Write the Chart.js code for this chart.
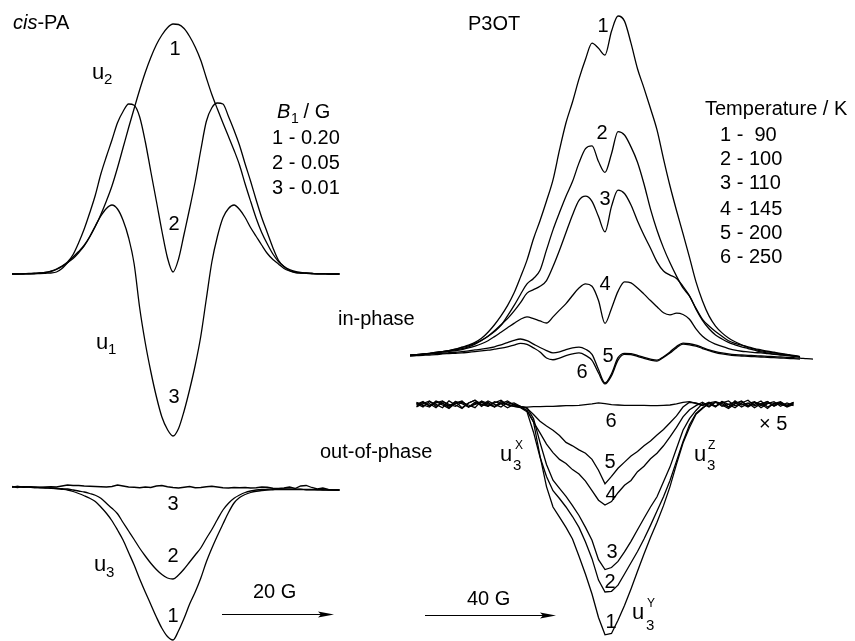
<!DOCTYPE html>
<html>
<head>
<meta charset="utf-8">
<script src="https://cdn.jsdelivr.net/npm/chart.js@4.4.1/dist/chart.umd.min.js"></script>
<style>
  body { margin: 0; background: #fff; }
  #fig { position: relative; width: 855px; height: 641px; overflow: hidden;
         font-family: "Liberation Sans", Arial, sans-serif; color: #000; }
  #fig canvas { position: absolute; }
  .lbl { position: absolute; white-space: pre; }
</style>
</head>
<body>
<div id="fig">
  <canvas id="leftIn"></canvas>
  <canvas id="leftOut"></canvas>
  <canvas id="rightIn"></canvas>
  <canvas id="rightOut"></canvas>
  <svg width="855" height="641" style="position:absolute;left:0;top:0">
    <line x1="222" y1="614.5" x2="324" y2="614.5" stroke="#000" stroke-width="1.2"/>
    <polygon points="334,614.5 318,611.5 321,614.5 318,617.5" fill="#000"/>
    <line x1="425" y1="615.5" x2="546" y2="615.5" stroke="#000" stroke-width="1.2"/>
    <polygon points="556,615.5 540,612.5 543,615.5 540,618.5" fill="#000"/>
  </svg>
</div>
<script>
// ---- cis-PA (field offset in G, amplitude normalised to curve 1) ----
const fieldL = [-29,-28,-27,-26,-25,-24,-23,-22,-21,-20,-19,-18,-17,-16,-15,-14,-13,-12,-11,-10,
  -9,-8,-7,-6,-5,-4,-3,-2,-1,0,1,2,3,4,5,6,7,8,9,10,11,12,13,14,15,16,17,18,19,20,
  21,22,23,24,25,26,27,28,29,30];

// in-phase, B1 = 0.20 / 0.05 / 0.01 G
const inL1 = [0.000,0.000,0.001,0.001,0.002,0.004,0.006,0.010,0.018,0.030,
  0.045,0.062,0.085,0.112,0.148,0.190,0.238,0.292,0.352,0.425,
  0.505,0.585,0.662,0.737,0.806,0.866,0.917,0.956,0.985,1.000,
  0.998,0.982,0.950,0.908,0.855,0.785,0.718,0.660,0.604,0.550,
  0.495,0.435,0.360,0.290,0.222,0.165,0.120,0.080,0.050,0.030,
  0.018,0.010,0.006,0.004,0.002,0.001,0.001,0.000,0.000,0.000];
const inL2 = [0.000,0.000,0.001,0.002,0.003,0.004,0.006,0.012,0.020,0.032,
  0.048,0.078,0.125,0.180,0.245,0.315,0.400,0.470,0.536,0.605,
  0.650,0.680,0.675,0.628,0.530,0.410,0.292,0.172,0.065,0.008,
  0.060,0.160,0.262,0.370,0.495,0.610,0.665,0.684,0.680,0.630,
  0.575,0.514,0.440,0.370,0.295,0.225,0.165,0.105,0.055,0.030,
  0.014,0.007,0.004,0.003,0.002,0.001,0.001,0.000,0.000,0.000];
const inL3 = [0.000,0.000,0.000,0.001,0.001,0.002,0.003,0.004,0.008,0.022,
  0.045,0.068,0.090,0.115,0.150,0.192,0.232,0.262,0.276,0.260,
  0.215,0.145,0.040,-0.136,-0.275,-0.390,-0.490,-0.572,-0.622,-0.648,
  -0.618,-0.548,-0.462,-0.365,-0.250,-0.100,0.048,0.150,0.225,0.262,
  0.276,0.258,0.226,0.185,0.150,0.115,0.082,0.058,0.040,0.022,
  0.012,0.006,0.004,0.003,0.002,0.001,0.001,0.000,0.000,0.000];

// out-of-phase
const outL1 = [0.002,-0.002,0.001,0.000,-0.002,-0.002,-0.003,-0.004,-0.006,-0.009,
  -0.012,-0.018,-0.026,-0.035,-0.045,-0.058,-0.080,-0.105,-0.135,-0.172,
  -0.212,-0.262,-0.312,-0.368,-0.420,-0.470,-0.520,-0.565,-0.598,-0.612,
  -0.575,-0.525,-0.468,-0.420,-0.365,-0.300,-0.245,-0.195,-0.148,-0.102,
  -0.064,-0.042,-0.030,-0.022,-0.017,-0.014,-0.012,-0.011,-0.010,-0.010,
  -0.010,-0.010,-0.010,-0.011,-0.011,-0.011,-0.012,-0.012,-0.012,-0.012];
const outL2 = [0.000,0.002,-0.001,0.001,-0.002,-0.003,-0.004,-0.005,-0.006,-0.007,
  -0.008,-0.012,-0.016,-0.020,-0.026,-0.033,-0.045,-0.065,-0.085,-0.107,
  -0.142,-0.176,-0.210,-0.245,-0.276,-0.305,-0.330,-0.350,-0.364,-0.368,
  -0.352,-0.328,-0.300,-0.272,-0.244,-0.206,-0.170,-0.130,-0.092,-0.065,
  -0.045,-0.032,-0.022,-0.016,-0.012,-0.010,-0.009,-0.008,-0.008,-0.008,
  -0.008,-0.009,-0.009,-0.010,-0.010,-0.011,-0.011,-0.012,-0.012,-0.012];
const outL3 = [0.000,0.002,0.000,0.001,0.000,-0.001,0.000,0.001,0.000,0.004,
  0.008,0.006,0.006,0.004,0.003,0.002,0.001,0.000,0.002,0.008,
  0.004,0.000,-0.001,-0.003,0.000,-0.002,0.004,0.006,0.001,-0.002,
  -0.004,-0.001,0.002,-0.003,-0.002,0.001,0.003,0.000,-0.003,-0.004,
  -0.002,-0.003,-0.002,-0.004,-0.003,0.000,-0.001,-0.005,-0.006,-0.004,
  0.000,-0.006,0.004,0.006,-0.002,-0.008,-0.004,-0.010,-0.012,-0.012];

// ---- P3OT (field offset in G, amplitude normalised to curve 1) ----
const fieldR = [-60,-58,-56,-54,-52,-50,-48,-46,-44,-42,-40,-38,-36,-34,-32,-30,-28,-26,-24,-22,
  -20,-18,-16,-14,-12,-10,-8,-6,-4,-2,0,2,4,6,8,10,12,14,16,18,
  20,22,24,26,28,30,32,34,36,38,40,42,44,46,48,50,52,54,56,58,60,62,64];

// in-phase, T = 90 / 100 / 110 / 145 / 200 / 250 K
const inR1 = [0.002,0.004,0.006,0.008,0.010,0.013,0.016,0.020,0.026,0.032,
  0.040,0.052,0.070,0.092,0.118,0.148,0.185,0.232,0.282,0.345,
  0.398,0.456,0.518,0.606,0.686,0.747,0.815,0.873,0.920,0.905,
  0.885,0.955,1.000,0.985,0.920,0.845,0.788,0.728,0.665,0.580,
  0.500,0.428,0.360,0.290,0.218,0.162,0.118,0.088,0.068,0.053,
  0.042,0.033,0.025,0.020,0.015,0.012,0.009,0.006,0.003,0.000,
  -0.004,null,null];
const inR2 = [0.002,0.004,0.006,0.008,0.011,0.013,0.016,0.020,0.025,0.030,
  0.037,0.046,0.058,0.072,0.090,0.118,0.148,0.181,0.212,0.228,
  0.252,0.312,0.371,0.422,0.470,0.513,0.568,0.610,0.618,0.572,
  0.540,0.595,0.660,0.650,0.615,0.570,0.506,0.432,0.370,0.318,
  0.274,0.235,0.200,0.176,0.140,0.108,0.088,0.072,0.058,0.045,
  0.037,0.032,0.027,0.022,0.018,0.014,0.011,0.008,0.005,0.002,
  -0.002,null,null];
const inR3 = [0.002,0.003,0.005,0.007,0.010,0.012,0.015,0.018,0.022,0.027,
  0.035,0.046,0.058,0.074,0.092,0.110,0.132,0.157,0.185,0.195,
  0.205,0.222,0.263,0.311,0.363,0.415,0.458,0.470,0.455,0.410,
  0.365,0.440,0.488,0.478,0.444,0.397,0.355,0.317,0.277,0.250,
  0.238,0.228,0.205,0.177,0.138,0.105,0.080,0.062,0.050,0.040,
  0.033,0.027,0.022,0.017,0.012,0.009,0.006,0.004,0.002,0.000,
  -0.002,null,null];
const inR4 = [0.001,0.002,0.004,0.007,0.010,0.012,0.014,0.016,0.019,0.024,
  0.029,0.036,0.045,0.057,0.070,0.083,0.096,0.108,0.115,0.110,
  0.103,0.097,0.115,0.135,0.154,0.178,0.200,0.212,0.205,0.163,
  0.096,0.140,0.190,0.218,0.215,0.200,0.182,0.163,0.145,0.127,
  0.121,0.126,0.122,0.108,0.080,0.058,0.044,0.035,0.028,0.022,
  0.017,0.014,0.012,0.010,0.009,0.007,0.005,0.003,0.001,0.000,
  -0.002,null,null];
const inR5 = [0.003,0.004,0.005,0.006,0.007,0.008,0.010,0.011,0.013,0.015,
  0.018,0.020,0.023,0.027,0.033,0.039,0.046,0.050,0.045,0.035,
  0.025,0.016,0.009,0.012,0.019,0.024,0.026,0.020,0.005,-0.040,
  -0.079,-0.052,-0.005,0.008,0.007,0.002,-0.004,-0.009,-0.012,-0.002,
  0.012,0.028,0.038,0.036,0.032,0.025,0.018,0.013,0.009,0.006,
  0.004,0.003,0.002,0.001,0.000,-0.001,-0.002,-0.003,-0.004,-0.005,
  -0.006,-0.008,-0.009];
const inR6 = [0.000,0.001,0.002,0.003,0.004,0.006,0.007,0.008,0.009,0.011,
  0.013,0.015,0.017,0.020,0.023,0.027,0.032,0.037,0.034,0.024,
  0.012,-0.006,-0.011,-0.006,0.001,0.006,0.009,0.002,-0.013,-0.050,
  -0.082,-0.058,-0.012,0.005,0.004,-0.001,-0.007,-0.012,-0.015,-0.004,
  0.009,0.024,0.035,0.033,0.029,0.022,0.016,0.010,0.006,0.003,
  0.001,0.000,-0.001,-0.002,-0.003,-0.004,-0.005,-0.006,-0.007,-0.008,
  -0.009,null,null];

// out-of-phase (x5)
const outR1 = [null,0.004,-0.006,0.010,0.002,-0.008,0.012,0.000,-0.010,0.006,
  0.014,-0.004,0.008,-0.006,0.004,-0.008,0.002,-0.006,-0.016,-0.050,
  -0.150,-0.240,-0.300,-0.330,-0.360,-0.394,-0.445,-0.498,-0.556,-0.625,
  -0.676,-0.672,-0.633,-0.590,-0.541,-0.489,-0.438,-0.390,-0.345,-0.296,
  -0.240,-0.174,-0.112,-0.066,-0.027,-0.010,0.006,-0.004,0.010,-0.006,
  0.004,0.012,-0.002,0.008,-0.008,0.004,0.010,-0.004,0.006,-0.002,
  null,null,null];
const outR2 = [null,-0.004,0.008,-0.002,0.010,0.000,-0.010,0.006,0.012,-0.006,
  0.004,0.010,-0.004,0.006,0.014,0.000,-0.004,-0.008,-0.020,-0.080,
  -0.153,-0.210,-0.252,-0.275,-0.300,-0.328,-0.360,-0.403,-0.452,-0.515,
  -0.550,-0.548,-0.530,-0.497,-0.464,-0.431,-0.394,-0.354,-0.312,-0.270,
  -0.222,-0.165,-0.108,-0.058,-0.025,-0.008,0.004,-0.006,0.010,0.002,
  -0.008,0.006,0.014,-0.002,0.004,-0.010,0.006,0.002,-0.004,0.008,
  null,null,null];
const outR3 = [null,0.006,-0.002,0.004,-0.008,0.010,0.002,-0.004,0.008,0.000,
  -0.008,0.012,0.004,-0.006,0.010,0.002,0.006,-0.004,-0.008,-0.040,
  -0.110,-0.175,-0.221,-0.245,-0.269,-0.296,-0.325,-0.360,-0.398,-0.455,
  -0.484,-0.478,-0.460,-0.432,-0.401,-0.367,-0.333,-0.300,-0.270,-0.226,
  -0.182,-0.128,-0.074,-0.040,-0.016,0.004,-0.006,0.008,0.000,-0.010,
  0.004,0.010,-0.004,0.002,0.012,-0.006,0.004,0.010,-0.002,0.004,
  null,null,null];
const outR4 = [null,-0.006,0.004,0.012,-0.004,0.006,-0.008,0.010,0.004,-0.006,
  0.008,0.000,0.012,0.002,-0.006,0.008,0.000,-0.006,-0.016,-0.050,
  -0.082,-0.115,-0.140,-0.160,-0.172,-0.190,-0.203,-0.224,-0.252,-0.280,
  -0.294,-0.284,-0.258,-0.236,-0.222,-0.196,-0.180,-0.158,-0.142,-0.120,
  -0.094,-0.066,-0.035,-0.014,-0.002,0.008,-0.004,0.010,0.004,-0.006,
  0.012,0.000,0.006,-0.008,0.004,0.010,-0.002,0.006,-0.006,0.002,
  null,null,null];
const outR5 = [null,0.008,0.000,-0.006,0.012,0.004,-0.004,0.010,-0.008,0.006,
  0.014,0.002,-0.004,0.010,0.004,0.012,0.000,-0.004,-0.010,-0.028,
  -0.048,-0.062,-0.074,-0.090,-0.110,-0.120,-0.132,-0.142,-0.160,-0.192,
  -0.232,-0.210,-0.186,-0.168,-0.150,-0.137,-0.120,-0.106,-0.088,-0.072,
  -0.052,-0.032,-0.006,0.008,0.006,0.000,0.008,-0.004,0.006,0.012,
  -0.002,0.004,-0.006,0.008,0.002,0.010,-0.004,0.006,0.000,0.008,
  null,null,null];
const outR6 = [null,0.002,0.010,-0.004,0.006,0.012,-0.002,0.004,0.010,-0.006,
  0.002,0.008,0.000,-0.004,0.006,0.002,-0.004,-0.006,-0.006,-0.005,
  -0.005,-0.004,-0.004,-0.003,-0.002,-0.002,-0.001,0.001,0.003,0.006,
  0.004,0.001,0.000,-0.001,-0.001,-0.001,-0.001,-0.002,-0.002,-0.001,
  0.000,0.003,0.008,0.010,0.004,-0.002,0.006,0.010,-0.004,0.002,
  0.008,-0.006,0.004,0.010,-0.002,0.006,0.000,0.008,-0.004,0.006,
  null,null,null];

// ---- layout ----
const LEFT = { cx: 173, pxPerG: 5.55, pxPerUnit: 250 };
const RIGHT = { cx: 605, pxPerG: 3.25, pxPerUnit: 340 };

function curve(field, values, smooth) {
  const pts = [];
  field.forEach((x, i) => {
    if (values[i] !== null) pts.push({ x: x, y: values[i] });
  });
  return {
    data: pts,
    borderColor: '#000',
    borderWidth: 1.3,
    pointRadius: 0,
    fill: false,
    clip: false,
    tension: 0,
    cubicInterpolationMode: smooth ? 'monotone' : 'default'
  };
}

function makeChart(id, panel, box, baseline, sets) {
  const cv = document.getElementById(id);
  cv.width = box.w;
  cv.height = box.h;
  cv.style.left = box.l + 'px';
  cv.style.top = box.t + 'px';
  new Chart(cv, {
    type: 'line',
    data: { datasets: sets },
    options: {
      responsive: false,
      animation: false,
      devicePixelRatio: 1,
      events: [],
      layout: { padding: 0 },
      plugins: { legend: { display: false }, tooltip: { enabled: false } },
      scales: {
        x: { type: 'linear', display: false,
             min: (box.l - panel.cx) / panel.pxPerG,
             max: (box.l + box.w - panel.cx) / panel.pxPerG },
        y: { type: 'linear', display: false,
             min: (baseline - box.t - box.h) / panel.pxPerUnit,
             max: (baseline - box.t) / panel.pxPerUnit }
      }
    }
  });
}

makeChart('leftIn', LEFT, { l: 0, t: 0, w: 350, h: 460 }, 274,
  [curve(fieldL, inL1, true), curve(fieldL, inL2, true), curve(fieldL, inL3, true)]);
makeChart('leftOut', LEFT, { l: 0, t: 465, w: 350, h: 176 }, 487,
  [curve(fieldL, outL1, true), curve(fieldL, outL2, true), curve(fieldL, outL3, false)]);
makeChart('rightIn', RIGHT, { l: 400, t: 0, w: 455, h: 395 }, 356,
  [inR1, inR2, inR3, inR4, inR5, inR6].map(v => curve(fieldR, v, true)));
makeChart('rightOut', RIGHT, { l: 400, t: 388, w: 455, h: 253 }, 405,
  [outR1, outR2, outR3, outR4, outR5, outR6].map(v => curve(fieldR, v, false)));

// ---- text ----
const fig = document.getElementById('fig');
function addText(html, x, base, size, align) {
  const d = document.createElement('div');
  d.className = 'lbl';
  d.style.fontSize = size + 'px';
  d.style.lineHeight = size + 'px';
  d.style.top = (base - 0.85 * size) + 'px';
  d.style.left = x + 'px';
  if (align === 'c') d.style.transform = 'translateX(-50%)';
  d.innerHTML = html;
  fig.appendChild(d);
}

const texts = [
  ['<i>cis</i>-PA', 13, 29, 20],
  ['u', 92, 80, 22], ['2', 104, 84, 15],
  ['1', 175, 55, 20, 'c'],
  ['<i>B</i>', 277, 118, 20], ['1', 291, 123, 14], [' / G', 298, 118, 20],
  ['1 - 0.20', 272, 144, 20],
  ['2 - 0.05', 272, 169, 20],
  ['3 - 0.01', 272, 194, 20],
  ['2', 174, 230, 20, 'c'],
  ['u', 96, 350, 22], ['1', 108, 354, 15],
  ['3', 174, 403, 20, 'c'],
  ['3', 173, 510, 20, 'c'],
  ['2', 173, 562, 20, 'c'],
  ['u', 94, 572, 22], ['3', 106, 577, 15],
  ['1', 173, 622, 20, 'c'],
  ['20 G', 253, 598, 20],
  ['in-phase', 338, 325, 20],
  ['out-of-phase', 320, 458, 20],
  ['P3OT', 468, 30, 20],
  ['1', 603, 32, 20, 'c'],
  ['2', 602, 139, 20, 'c'],
  ['3', 605, 205, 20, 'c'],
  ['4', 605, 290, 20, 'c'],
  ['5', 608, 362, 20, 'c'],
  ['6', 582, 378, 20, 'c'],
  ['Temperature / K', 705, 115, 20],
  ['1 -  90', 720, 141, 20],
  ['2 - 100', 720, 165, 20],
  ['3 - 110', 720, 189, 20],
  ['4 - 145', 720, 215, 20],
  ['5 - 200', 720, 239, 20],
  ['6 - 250', 720, 263, 20],
  ['6', 611, 427, 20, 'c'],
  ['\u00d7 5', 759, 430, 20],
  ['u', 500, 462, 22], ['X', 515, 449, 12], ['3', 513, 470, 15],
  ['u', 694, 462, 22], ['Z', 708, 449, 12], ['3', 707, 470, 15],
  ['u', 632, 620, 22], ['Y', 647, 607, 12], ['3', 646, 630, 15],
  ['5', 610, 468, 20, 'c'],
  ['4', 611, 500, 20, 'c'],
  ['3', 612, 558, 20, 'c'],
  ['2', 610, 588, 20, 'c'],
  ['1', 611, 628, 20, 'c'],
  ['40 G', 467, 605, 20]
];
texts.forEach(t => addText(t[0], t[1], t[2], t[3], t[4]));
</script>
</body>
</html>
